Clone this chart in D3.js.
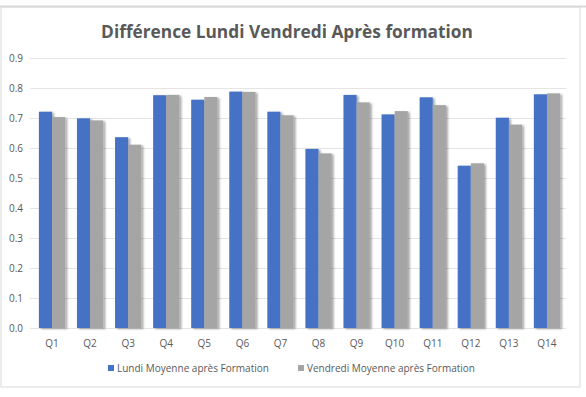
<!DOCTYPE html>
<html>
<head>
<meta charset="utf-8">
<script src="https://cdn.jsdelivr.net/npm/d3@7"></script>
<style>
  body { margin: 0; background: #fff; }
  text { font-family: "Open Sans", "Liberation Sans", sans-serif; fill: #595959; }
</style>
</head>
<body>
<svg id="chart" width="586" height="397"></svg>
<script>
// data
const questions = ["Q1","Q2","Q3","Q4","Q5","Q6","Q7","Q8","Q9","Q10","Q11","Q12","Q13","Q14"];
const lundi    = [0.721, 0.699, 0.636, 0.776, 0.761, 0.788, 0.721, 0.597, 0.777, 0.712, 0.769, 0.541, 0.701, 0.779];
const vendredi = [0.703, 0.692, 0.611, 0.777, 0.770, 0.787, 0.709, 0.582, 0.752, 0.723, 0.743, 0.549, 0.678, 0.782];
const seriesNames = ["Lundi Moyenne après Formation", "Vendredi Moyenne après Formation"];
const yTicks = [0, 0.1, 0.2, 0.3, 0.4, 0.5, 0.6, 0.7, 0.8, 0.9];

const colors = ["#4472c4", "#a5a5a5"];
const svg = d3.select("#chart");

// chart border
svg.append("rect")
  .attr("x", 1).attr("y", 7).attr("width", 579).attr("height", 380)
  .attr("fill", "none").attr("stroke", "#d9d9d9").attr("stroke-width", 1);
svg.append("line")
  .attr("x1", 0).attr("x2", 586).attr("y1", 6.5).attr("y2", 6.5)
  .attr("stroke", "#d9d9d9").attr("stroke-width", 2);

// title
svg.append("text")
  .attr("x", 287).attr("y", 38)
  .attr("text-anchor", "middle")
  .style("font-size", "17.3px").style("font-weight", "bold")
  .text("Différence Lundi Vendredi Après formation");

// scales
const x = d3.scaleBand()
  .domain(questions)
  .range([33, 566])
  .paddingInner(0.31)
  .paddingOuter(0.155);

const xSub = d3.scaleBand()
  .domain([0, 1])
  .range([0, x.bandwidth()]);

const y = d3.scaleLinear()
  .domain([0, 0.9])
  .range([328, 58]);

// gridlines
svg.append("g")
  .selectAll("line")
  .data(yTicks).enter()
  .append("line")
  .attr("x1", 30).attr("x2", 566)
  .attr("y1", d => Math.round(y(d)) + 0.5)
  .attr("y2", d => Math.round(y(d)) + 0.5)
  .attr("stroke", "#e4e4e4");

// y labels
svg.append("g")
  .selectAll("text")
  .data(yTicks).enter()
  .append("text")
  .attr("x", 23)
  .attr("y", d => y(d) + 3.5)
  .attr("text-anchor", "end")
  .style("font-size", "10px")
  .text(d => d.toFixed(1));

// shadow
const defs = svg.append("defs");
const f = defs.append("filter").attr("id", "shadow")
  .attr("x", "-20%").attr("y", "-5%").attr("width", "150%").attr("height", "110%");
f.append("feGaussianBlur").attr("in", "SourceAlpha").attr("stdDeviation", 1.2).attr("result", "b");
f.append("feOffset").attr("in", "b").attr("dx", 1.5).attr("dy", 0.5).attr("result", "o");
f.append("feComponentTransfer").attr("in", "o").attr("result", "s")
  .append("feFuncA").attr("type", "linear").attr("slope", 0.35);
const m = f.append("feMerge");
m.append("feMergeNode").attr("in", "s");
m.append("feMergeNode").attr("in", "SourceGraphic");

// bars
const rows = questions.map((q, i) => ({ q, vals: [lundi[i], vendredi[i]] }));
const groups = svg.append("g")
  .selectAll("g")
  .data(rows).enter()
  .append("g")
  .attr("transform", d => `translate(${x(d.q)},0)`);

groups.selectAll("rect")
  .data(d => d.vals.map((v, k) => ({ v, k }))).enter()
  .append("rect")
  .attr("x", d => xSub(d.k))
  .attr("y", d => y(d.v))
  .attr("width", xSub.bandwidth())
  .attr("height", d => y(0) - y(d.v))
  .attr("fill", d => colors[d.k])
  .attr("filter", "url(#shadow)");

// x labels
svg.append("g")
  .selectAll("text")
  .data(questions).enter()
  .append("text")
  .attr("x", d => x(d) + x.bandwidth() / 2)
  .attr("y", 347)
  .attr("text-anchor", "middle")
  .style("font-size", "10px")
  .text(d => d);

// legend
const legendX = [108, 298];
const legend = svg.append("g")
  .selectAll("g")
  .data(seriesNames).enter()
  .append("g")
  .attr("transform", (d, i) => `translate(${legendX[i]},0)`);
legend.append("rect")
  .attr("x", 0).attr("y", 365).attr("width", 6).attr("height", 6)
  .attr("fill", (d, i) => colors[i]);
legend.append("text")
  .attr("x", 9).attr("y", 372)
  .style("font-size", "10px")
  .text(d => d);
</script>
</body>
</html>
